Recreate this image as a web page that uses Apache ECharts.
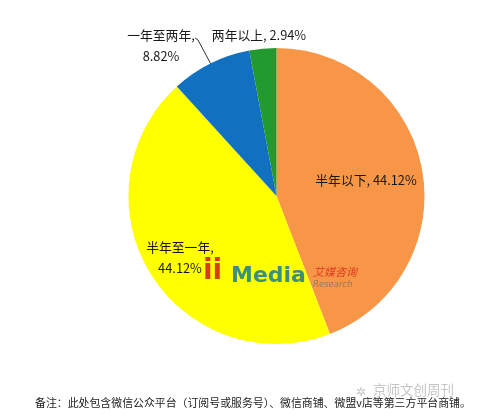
<!DOCTYPE html>
<html><head><meta charset="utf-8">
<script src="https://cdn.jsdelivr.net/npm/echarts@6/dist/echarts.min.js"></script>
<style>html,body{margin:0;padding:0;background:#fff}#c{width:477px;height:418px}</style>
</head><body><div id="c"></div>
<script>
const categories = ['半年以下', '半年至一年', '一年至两年', '两年以上'];
const values = [44.12, 44.12, 8.82, 2.94];
const colors = ['#F79646', '#FFFF00', '#1170C0', '#229A2F'];
const footnote = '备注：此处包含微信公众平台（订阅号或服务号）、微信商铺、微盟v店等第三方平台商铺。';

const FONT = '"Noto Sans CJK SC", "Noto Sans", sans-serif';
const CX = 276.5, CY = 196, R = 148;
// label layout (positions only)
const labelPos = [
  {x: 366, y: 180},
  {x: 180, y: 258},
  {x: 161, y: 46},
  {x: 259, y: 35}
];
const labelFmt = [
  p => p.name + ', ' + p.value.toFixed(2) + '%',
  p => p.name + ',\n' + p.value.toFixed(2) + '%',
  p => p.name + ',\n' + p.value.toFixed(2) + '%',
  p => p.name + ', ' + p.value.toFixed(2) + '%'
];

// leader line anchor for the blue slice, derived from data (clockwise from 12 o'clock)
const total = values.reduce((a, b) => a + b, 0);
const before = values.slice(0, 2).reduce((a, b) => a + b, 0);
const midAng = (before + values[2] / 2) / total * 2 * Math.PI;
const anchor = [CX + R * Math.sin(midAng), CY - R * Math.cos(midAng)];

const chart = echarts.init(document.getElementById('c'), null, {renderer: 'canvas'});
chart.setOption({
  animation: false,
  backgroundColor: '#fff',
  series: [{
    type: 'pie',
    center: [CX, CY],
    radius: R,
    startAngle: 90,
    clockwise: true,
    silent: true,
    z: 2,
    data: categories.map((n, i) => ({
      name: n,
      value: values[i],
      itemStyle: {color: colors[i]},
      label: {
        show: true,
        position: i < 2 ? 'inside' : 'outside',
        formatter: labelFmt[i],
        fontFamily: FONT,
        fontSize: 12.8,
        color: '#1a1a1a',
        lineHeight: 21,
        align: 'center'
      },
      labelLine: {show: false}
    })),
    labelLayout: function (p) {
      const lp = labelPos[p.dataIndex];
      return {x: lp.x, y: lp.y, align: 'center', verticalAlign: 'middle'};
    }
  }],
  graphic: [
    {type: 'polyline', z: 100, shape: {points: [anchor, [198, 40], [195, 38]]}, style: {stroke: '#333', lineWidth: 1, fill: null}},
    {type: 'text', z: 100, left: 35, top: 397, style: {text: footnote, fontFamily: FONT, fontSize: 10.9, fill: '#222'}},
    {type: 'text', z: 100, left: 373, top: 383, style: {text: '京师文创周刊', fontFamily: FONT, fontSize: 13.5, fill: 'rgba(150,150,150,0.55)'}},
    {type: 'text', z: 100, left: 356, top: 385, style: {text: '✲', fontFamily: FONT, fontSize: 12, fill: 'rgba(150,150,150,0.55)'}},
    {type: 'text', z: 100, left: 203, top: 258, style: {text: 'ii', fontFamily: 'DejaVu Sans', fontWeight: 'bold', fontSize: 28, fill: 'rgba(210,40,20,0.9)'}},
    {type: 'text', z: 100, left: 231, top: 265, style: {text: 'Media', fontFamily: 'DejaVu Sans', fontWeight: 'bold', fontSize: 22, fill: 'rgba(40,130,140,0.9)'}},
    {type: 'text', z: 100, left: 313, top: 266, style: {text: '艾媒咨询', fontFamily: FONT, fontSize: 11, fontStyle: 'italic', fill: 'rgba(220,40,30,0.85)'}},
    {type: 'text', z: 100, left: 313, top: 280, style: {text: 'Research', fontFamily: 'DejaVu Sans', fontSize: 8.5, fontStyle: 'italic', fill: 'rgba(110,110,110,0.7)'}}
  ]
});
</script></body></html>
